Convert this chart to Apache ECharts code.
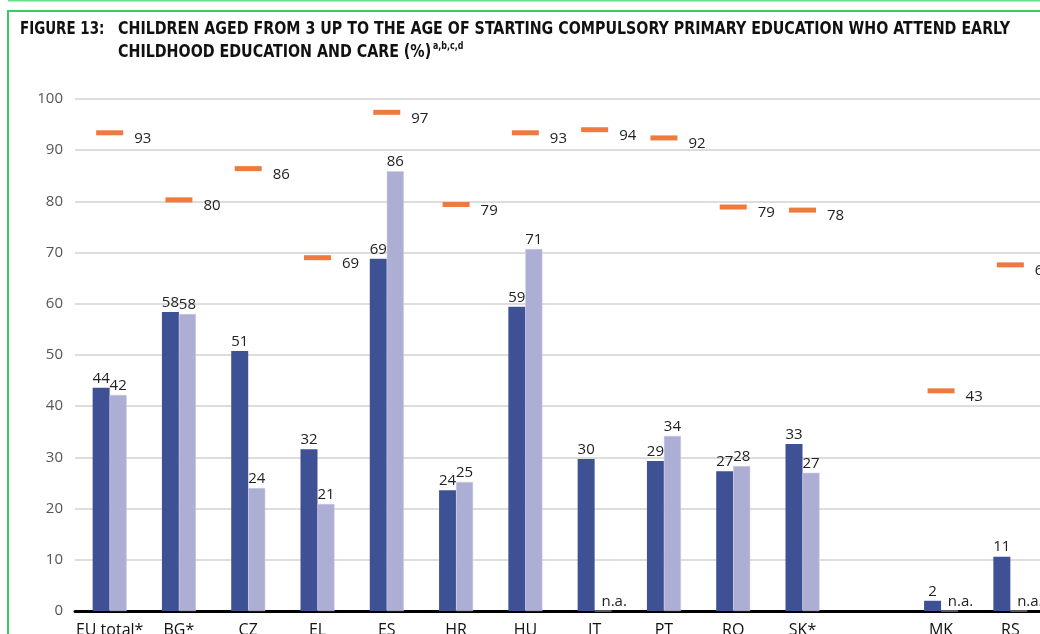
<!DOCTYPE html>
<html>
<head>
<meta charset="utf-8">
<script src="https://cdn.jsdelivr.net/npm/echarts@6/dist/echarts.min.js"></script>
<style>
  html, body { margin: 0; padding: 0; background: #fff; }
  #chart { width: 1040px; height: 634px; }
</style>
</head>
<body>
<div id="chart"></div>
<script>
// countries ('' is an empty slot between EU members and candidates)
const categories = ['EU total*', 'BG*', 'CZ', 'EL', 'ES', 'HR', 'HU', 'IT', 'PT', 'RO', 'SK*', '', 'MK', 'RS']

// dark bars / light bars, null = n.a.
const darkValues = [43.6, 58.4, 50.8, 31.6, 68.8, 23.6, 59.4, 29.7, 29.3, 27.3, 32.6, null, 2, 10.6]
const lightValues = [42.2, 58, 24, 20.9, 85.9, 25.2, 70.7, null, 34.2, 28.3, 27, null, null, null]

// orange markers
const markerValues = [93.4, 80.3, 86.4, 69, 97.4, 79.4, 93.4, 94, 92.4, 78.9, 78.3, null, 43, 67.6]

const yTicks = { min: 0, max: 100, interval: 10 }

const DARK = '#3e5194'
const LIGHT = '#adaed3'
const ORANGE = '#ee7a3e'
const FONT = '"Open Sans", "Noto Sans", sans-serif'
const TITLE_FONT = '"DejaVu Sans Condensed", sans-serif'

const valueLabel = {
  show: true,
  position: 'top',
  distance: 2,
  fontFamily: FONT,
  fontSize: 15,
  color: '#222',
  formatter: p => Math.round(p.value)
}

function toBarData(arr) {
  return arr.map((v, i) => {
    if (categories[i] === '') return '-'
    if (v === null) {
      return {
        value: 0,
        label: { formatter: 'n.a.', offset: [11, 0], fontSize: 15 }
      }
    }
    return v
  })
}

const chart = echarts.init(document.getElementById('chart'))

chart.setOption({
  animation: false,
  graphic: [
    {
      type: 'rect',
      shape: { x: 8, y: 11, width: 1100, height: 700 },
      style: { fill: 'none', stroke: '#33cc66', lineWidth: 2 },
      silent: true
    },
    {
      type: 'line',
      shape: { x1: 8, y1: 0.5, x2: 1040, y2: 0.5 },
      style: { stroke: '#66dd88', lineWidth: 2 },
      silent: true
    },
    {
      type: 'text',
      x: 20,
      y: 18,
      scaleX: 0.83,
      style: {
        text: 'FIGURE 13:',
        font: 'bold 18px ' + TITLE_FONT,
        fill: '#111',
        lineHeight: 23
      },
      silent: true
    },
    {
      type: 'text',
      x: 118,
      y: 18,
      scaleX: 0.88,
      style: {
        text: 'CHILDREN AGED FROM 3 UP TO THE AGE OF STARTING COMPULSORY PRIMARY EDUCATION WHO ATTEND EARLY\nCHILDHOOD EDUCATION AND CARE (%){sup|a,b,c,d}',
        font: 'bold 18px ' + TITLE_FONT,
        fill: '#111',
        lineHeight: 23,
        rich: {
          sup: {
            fontFamily: TITLE_FONT,
            fontWeight: 'bold',
            fontSize: 10,
            lineHeight: 23,
            verticalAlign: 'top',
            padding: [0, 0, 0, 2],
            fill: '#111'
          }
        }
      },
      silent: true
    }
  ],
  grid: {
    left: 75,
    right: -5,
    top: 99,
    bottom: 23,
    outerBoundsMode: 'none'
  },
  xAxis: {
    type: 'category',
    data: categories,
    axisTick: { show: false },
    axisLine: { lineStyle: { color: '#000', width: 3 } },
    axisLabel: {
      interval: 0,
      margin: 11,
      fontFamily: FONT,
      fontSize: 16,
      color: '#111'
    }
  },
  yAxis: {
    type: 'value',
    min: yTicks.min,
    max: yTicks.max,
    interval: yTicks.interval,
    axisLine: { show: false },
    axisTick: { show: false },
    splitLine: { lineStyle: { color: '#d2d2d2', width: 1.5 } },
    axisLabel: {
      margin: 12,
      fontFamily: FONT,
      fontSize: 15,
      color: '#555'
    }
  },
  series: [
    {
      type: 'bar',
      barWidth: 17,
      barGap: '0%',
      data: toBarData(darkValues),
      itemStyle: { color: DARK },
      label: valueLabel
    },
    {
      type: 'bar',
      barWidth: 17,
      data: toBarData(lightValues),
      itemStyle: { color: LIGHT, borderColor: '#c8c9e4', borderWidth: 0.5 },
      label: valueLabel
    },
    {
      type: 'scatter',
      symbol: 'rect',
      symbolSize: [27, 5],
      data: markerValues.map(v => (v === null ? '-' : v)),
      itemStyle: { color: ORANGE, opacity: 1 },
      label: {
        show: true,
        position: 'right',
        distance: 11,
        offset: [0, 6],
        fontFamily: FONT,
        fontSize: 15,
        color: '#222',
        formatter: p => Math.round(p.value)
      },
      z: 5
    }
  ]
})
</script>
</body>
</html>
